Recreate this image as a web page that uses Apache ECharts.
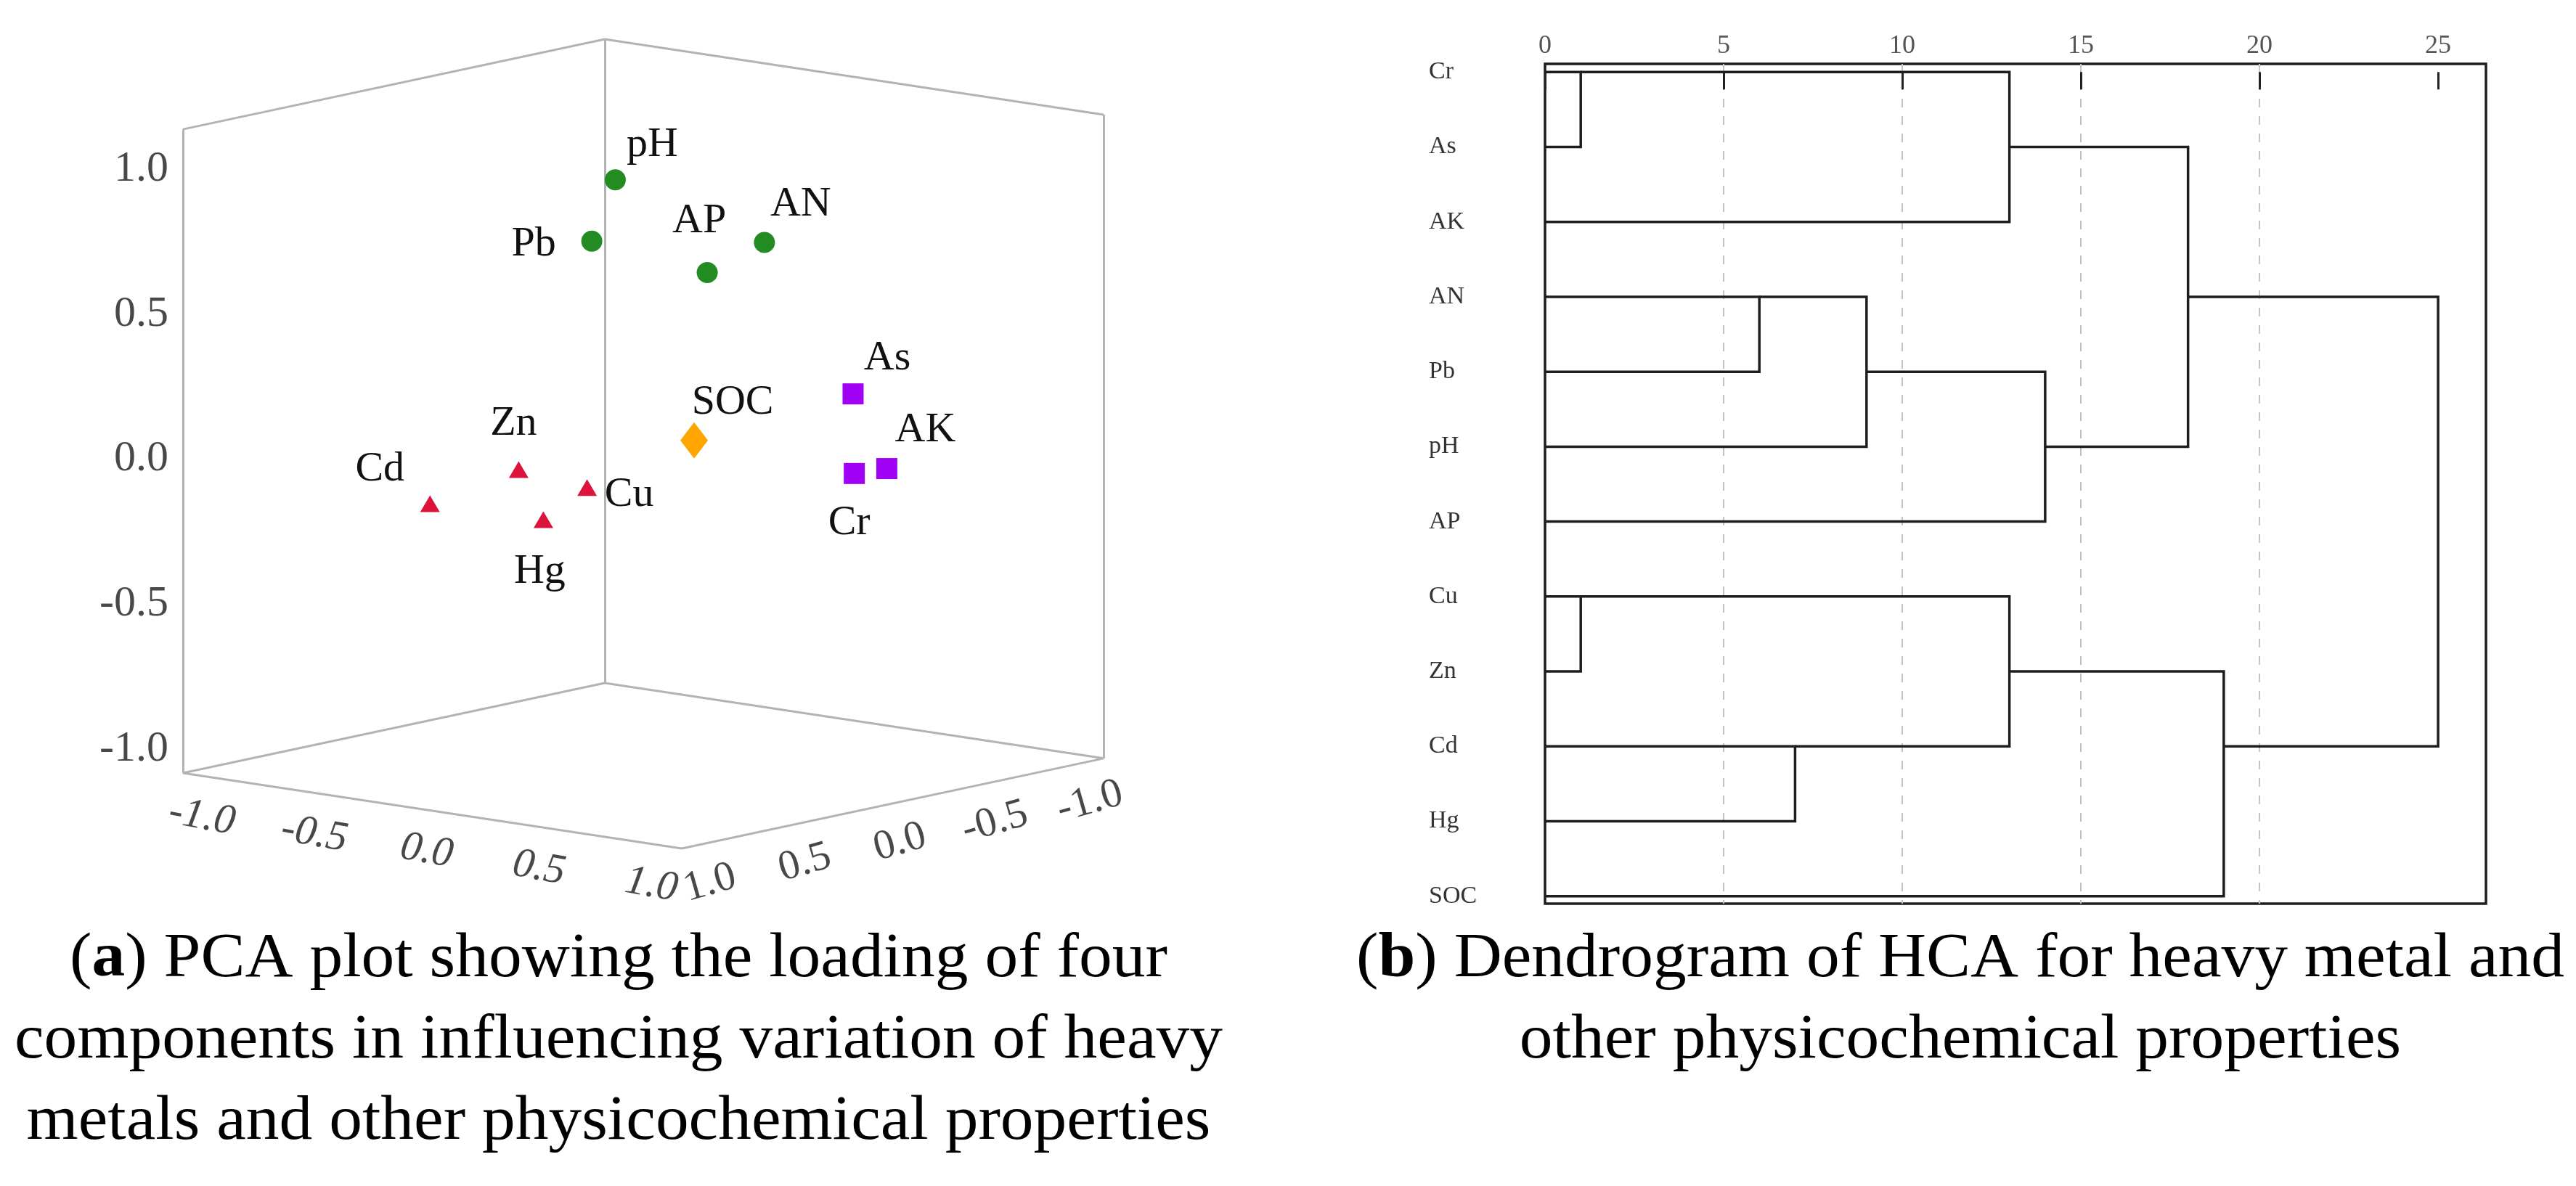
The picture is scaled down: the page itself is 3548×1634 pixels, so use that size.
<!DOCTYPE html>
<html>
<head>
<meta charset="utf-8">
<script src="https://cdn.jsdelivr.net/npm/echarts@6/dist/echarts.min.js"></script>
<style>
html,body{margin:0;padding:0;background:#fff;}
#c{width:3548px;height:1634px;}
</style>
</head>
<body>
<div id="c"></div>
<script>
// ---------------- DATA ----------------
// (a) PCA loadings: three component axes (two floor axes + vertical axis)
const pcaNames  = ['pH', 'Pb', 'AP', 'AN', 'SOC', 'As', 'AK', 'Cr', 'Zn', 'Cd', 'Cu', 'Hg'];
const pcaX      = [-0.04, -0.06, 0.20, 0.37, 0.48, 0.68, 0.83, 0.77, -0.47, -0.78, -0.25, -0.36];
const pcaY      = [ 0.10,  0.20, -0.10, -0.20, 0.30, -0.30, -0.30, -0.20, 0.10, 0.20, 0.00, 0.10];
const pcaZ      = [ 0.92,  0.72, 0.60, 0.71, 0.11, 0.21, -0.03, -0.04, -0.13, -0.27, -0.18, -0.29];
const pcaGroup  = ['g', 'g', 'g', 'g', 'o', 'p', 'p', 'p', 'r', 'r', 'r', 'r'];
const pcaTicks  = [-1.0, -0.5, 0.0, 0.5, 1.0];

// (b) HCA dendrogram
const hcaLeaves    = ['Cr', 'As', 'AK', 'AN', 'Pb', 'pH', 'AP', 'Cu', 'Zn', 'Cd', 'Hg', 'SOC'];
const hcaMergeA    = ['Cr', 'm0', 'AN', 'm2', 'm3', 'm1', 'Cu', 'Cd', 'm6', 'm8', 'm5'];
const hcaMergeB    = ['As', 'AK', 'Pb', 'pH', 'AP', 'm4', 'Zn', 'Hg', 'm7', 'SOC', 'm9'];
const hcaMergeDist = [1, 13, 6, 9, 14, 18, 1, 7, 13, 19, 25];
const hcaTicks     = [0, 5, 10, 15, 20, 25];

// captions
const captionA = ['({b|a}) PCA plot showing the loading of four',
                  'components in influencing variation of heavy',
                  'metals and other physicochemical properties'];
const captionB = ['({b|b}) Dendrogram of HCA for heavy metal and',
                  'other physicochemical properties'];

// ---------------- LAYOUT / STYLE ----------------
const W = 3548, H = 1634;
const BOX = 1.11;                        // half-extent of the 3D box
const ORIGIN = [886, 611.5];             // screen position of (0,0,0)
const EX = [309.5, 46.8], EY = [-261.7, 55.9], EZ = [0, -399.5];
function project(x, y, z) {
  return [x * EX[0] + y * EY[0] + z * EZ[0], x * EX[1] + y * EY[1] + z * EZ[1]];
}
const serif = 'Liberation Serif';
const groupStyle = {
  g: {symbol: 'circle',   size: 29,       color: '#228B22'},
  o: {symbol: 'diamond',  size: [38, 50], color: '#FFA500'},
  p: {symbol: 'rect',     size: 29,       color: '#A000F4'},
  r: {symbol: 'triangle', size: [27, 23], color: '#DC143C'}
};
const labelOffset = {
  pH: [51, -48], Pb: [-80, 5], AP: [-11, -71], AN: [50, -52], SOC: [53, -52],
  As: [47, -49], AK: [53, -53], Cr: [-7, 68], Zn: [-7, -63], Cd: [-69, -47],
  Cu: [58, 10], Hg: [-5, 72]
};

// ---------------- BUILD ----------------
const B = BOX;
const cL = [-B, B], cF = [B, B], cR = [B, -B], cK = [-B, -B];
function P(c, z) { return project(c[0], c[1], z); }
const boxEdges = [
  [P(cL, -B), P(cF, -B)], [P(cF, -B), P(cR, -B)],
  [P(cL, -B), P(cK, -B)], [P(cK, -B), P(cR, -B)],
  [P(cL, -B), P(cL, B)], [P(cK, -B), P(cK, B)], [P(cR, -B), P(cR, B)],
  [P(cL, B), P(cK, B)], [P(cK, B), P(cR, B)]
].map(c => ({coords: c}));

const series = [];
series.push({
  type: 'lines', coordinateSystem: 'cartesian2d', xAxisIndex: 0, yAxisIndex: 0,
  polyline: false, silent: true, z: 1,
  lineStyle: {color: '#b3b3b3', width: 3, opacity: 1},
  data: boxEdges
});

['g', 'o', 'p', 'r'].forEach(g => {
  const st = groupStyle[g];
  const data = [];
  pcaNames.forEach((n, i) => {
    if (pcaGroup[i] !== g) return;
    data.push({name: n, value: project(pcaX[i], pcaY[i], pcaZ[i]),
               label: {offset: labelOffset[n]}});
  });
  series.push({
    type: 'scatter', xAxisIndex: 0, yAxisIndex: 0, z: 3,
    symbol: st.symbol, symbolSize: st.size,
    itemStyle: {color: st.color, opacity: 1},
    label: {show: true, position: 'inside', formatter: '{b}', color: '#111',
            fontFamily: serif, fontSize: 58, align: 'center', verticalAlign: 'middle'},
    data: data
  });
});

function tickSeries(points, labelOpt) {
  return {
    type: 'scatter', xAxisIndex: 0, yAxisIndex: 0, symbolSize: 0, silent: true, z: 2,
    label: Object.assign({show: true, position: 'inside', color: '#1a1a1a',
      fontFamily: serif, fontSize: 58,
      formatter: p => p.data[2].toFixed(1)}, labelOpt),
    data: points
  };
}
// vertical axis labels (left edge)
series.push(tickSeries(pcaTicks.map(t => {
  const p = project(-B, B, t); return [p[0] - 20, p[1] + 11, t];
}), {align: 'right', fontSize: 60}));
// left floor axis labels
series.push(tickSeries(pcaTicks.map(t => {
  const p = project(t, B, -B); return [p[0] - 8, p[1] + 56, t];
}), {align: 'center', rotate: -10, fontStyle: 'italic'}));
// right floor axis labels
series.push(tickSeries(pcaTicks.map(t => {
  const p = project(B, t, -B); return [p[0] + 10, p[1] + 54, t];
}), {align: 'center', rotate: 16}));

// dendrogram
const node = {};
hcaLeaves.forEach((n, i) => { node[n] = {row: i, h: 0}; });
const dendroLinks = hcaMergeDist.map((d, k) => {
  const a = node[hcaMergeA[k]], b = node[hcaMergeB[k]];
  node['m' + k] = {row: Math.floor((a.row + b.row) / 2), h: d};
  return {coords: [[a.h, a.row], [d, a.row], [d, b.row], [b.h, b.row]]};
});
series.push({
  type: 'lines', coordinateSystem: 'cartesian2d', xAxisIndex: 1, yAxisIndex: 1,
  polyline: true, silent: true, z: 3,
  lineStyle: {color: '#1e1e1e', width: 3.5, opacity: 1},
  data: dendroLinks
});

// captions
const capSize = 86;
const ctx = document.createElement('canvas').getContext('2d');
function measureCaption(s) {
  const parts = s.split(/(\{b\|[^}]*\})/);
  let w = 0;
  parts.forEach(part => {
    const m = part.match(/^\{b\|([^}]*)\}$/);
    ctx.font = (m ? 'bold ' : '') + capSize + 'px "' + serif + '"';
    w += ctx.measureText(m ? m[1] : part).width;
  });
  return w;
}
const capScale = 1664 / measureCaption(captionB[0]);
const lineGap = 112, firstBaseline = 1351;
function captionGraphics(lines, cx) {
  return lines.map((s, i) => ({
    type: 'text', x: cx, y: firstBaseline + i * lineGap - 0.3375 * capSize,
    scaleX: capScale, silent: true,
    style: {
      text: s, fill: '#000', fontFamily: serif, fontSize: capSize,
      align: 'center', verticalAlign: 'middle', textAlign: 'center', textVerticalAlign: 'middle',
      rich: {b: {fontWeight: 'bold', fontFamily: serif, fontSize: capSize, fill: '#000'}}
    }
  }));
}

const chart = echarts.init(document.getElementById('c'), null, {renderer: 'canvas'});
chart.setOption({
  animation: false,
  backgroundColor: '#fff',
  grid: [
    {left: 0, top: 0, width: W, height: H, show: false},
    {left: 2128, top: 88, width: 1296, height: 1157, show: true,
     borderColor: '#1e1e1e', borderWidth: 3.5, backgroundColor: 'transparent'}
  ],
  xAxis: [
    {gridIndex: 0, type: 'value', min: -ORIGIN[0], max: W - ORIGIN[0], show: false},
    {gridIndex: 1, type: 'value', position: 'top', min: 0, max: 26.34, interval: 5,
     axisLine: {show: false},
     axisTick: {show: true, inside: true, length: 24, customValues: hcaTicks,
                lineStyle: {color: '#222', width: 3}},
     axisLabel: {show: true, customValues: hcaTicks, margin: 6, color: '#555',
                 fontFamily: serif, fontSize: 36},
     splitLine: {show: true, showMinLine: false, showMaxLine: false,
                 lineStyle: {color: '#c4c4c4', width: 2, type: [12, 12]}}}
  ],
  yAxis: [
    {gridIndex: 0, type: 'value', inverse: true, min: -ORIGIN[1], max: H - ORIGIN[1], show: false},
    {gridIndex: 1, type: 'value', inverse: true, min: -0.11, max: 11.1,
     axisLine: {show: false}, axisTick: {show: false}, splitLine: {show: false},
     axisLabel: {show: true, customValues: hcaLeaves.map((n, i) => i),
                 formatter: v => hcaLeaves[Math.round(v)],
                 align: 'left', margin: 160, color: '#333', fontFamily: serif, fontSize: 34,
                 padding: [8, 0, 0, 0]}}
  ],
  graphic: captionGraphics(captionA, 852).concat(captionGraphics(captionB, 2700)),
  series: series
});
</script>
</body>
</html>
